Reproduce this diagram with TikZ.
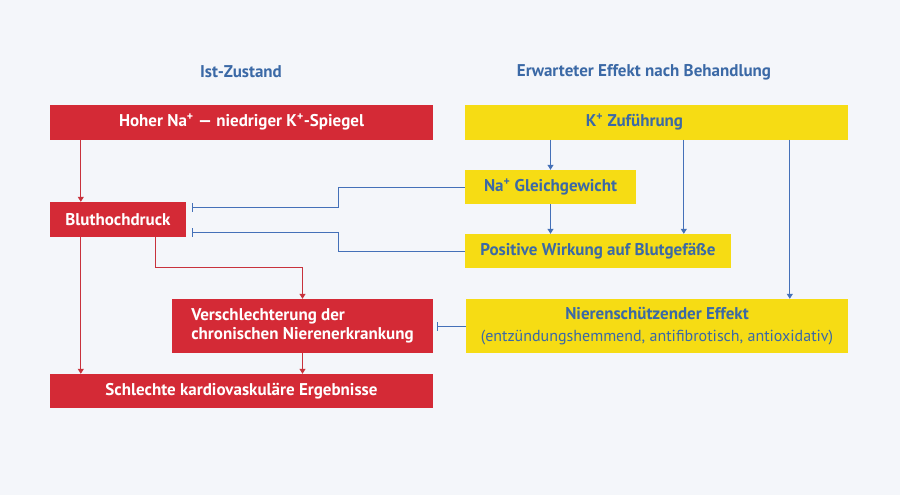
\documentclass[tikz,border=0pt]{standalone}
\usepackage{fontspec}
\setmainfont{PT Sans}
\usetikzlibrary{arrows.meta,positioning}
\definecolor{bgcol}{HTML}{F4F6FA}
\definecolor{boxred}{HTML}{D42A36}
\definecolor{linered}{HTML}{C8323C}
\definecolor{boxyellow}{HTML}{F6DC14}
\definecolor{textblue}{HTML}{3B69A6}
\definecolor{lineblue}{HTML}{4470B8}
\begin{document}
\begin{tikzpicture}[x=1pt,y=-1pt,
    redbox/.style={fill=boxred, text=white, inner sep=0pt,
      font=\bfseries\fontsize{17}{19}\selectfont},
    yellowbox/.style={fill=boxyellow, text=textblue, inner sep=0pt,
      font=\bfseries\fontsize{17}{19}\selectfont},
    heading/.style={text=textblue, font=\bfseries\fontsize{17}{19}\selectfont},
    redarrow/.style={draw=linered, line width=1pt,
      -{Triangle[width=6pt,length=5pt]}},
    bluearrow/.style={draw=lineblue, line width=1pt,
      -{Triangle[width=6pt,length=5pt]}},
    inhibit/.style={draw=lineblue, line width=1pt,
      -{Bar[width=9pt,line width=1pt]}, shorten >=6pt}]
    % Background
    \fill[bgcol] (0,0) rectangle (900,495);
    \useasboundingbox (0,0) rectangle (900,495);

    %%%%%%%%%%%%%%%%%%%%%%%%%%%%%%%%%%%%%%%%%%%%%%
    % Left: current state (red)
    %%%%%%%%%%%%%%%%%%%%%%%%%%%%%%%%%%%%%%%%%%%%%%
    \node[heading] (tIst) at (241,72) {Ist-Zustand};
    \node[redbox, minimum width=383pt, minimum height=35pt] (hoherNa) at (241.5,122)
      {Hoher Na\textsuperscript{+} — niedriger K\textsuperscript{+}-Spiegel};
    \node[redbox, minimum width=136pt, minimum height=35pt] (bluthoch) at (118,219.5)
      {Bluthochdruck};
    \node[redbox, minimum width=261pt, minimum height=54pt, align=left] (niere) at (302.5,326)
      {Verschlechterung der\\chronischen Nierenerkrankung};
    \node[redbox, minimum width=383pt, minimum height=34pt] (ergeb) at (241.5,391)
      {Schlechte kardiovaskuläre Ergebnisse};

    % Red arrows
    \draw[redarrow] ([xshift=31pt]hoherNa.south west) -- ([xshift=31pt]bluthoch.north west);
    \draw[redarrow] ([xshift=31pt]bluthoch.south west) -- ([xshift=31pt]ergeb.north west);
    \draw[redarrow] ([xshift=106pt]bluthoch.south west) -- ++(0,30) -| (niere.north);
    \draw[redarrow] (niere.south) -- (niere.south |- ergeb.north);

    %%%%%%%%%%%%%%%%%%%%%%%%%%%%%%%%%%%%%%%%%%%%%%
    % Right: expected effect (yellow)
    %%%%%%%%%%%%%%%%%%%%%%%%%%%%%%%%%%%%%%%%%%%%%%
    \node[heading] (tErw) at (644,72) {Erwarteter Effekt nach Behandlung};
    \node[yellowbox, minimum width=383pt, minimum height=35pt] (kZufuhr) at (656.5,122)
      {K\textsuperscript{+} Zuführung\kern44pt};
    \node[yellowbox, minimum width=171pt, minimum height=34pt] (naGleich) at (550.5,187)
      {Na\textsuperscript{+} Gleichgewicht};
    \node[yellowbox, minimum width=266pt, minimum height=34pt] (gefaesse) at (598,251)
      {Positive Wirkung auf Blutgefäße};
    \node[yellowbox, minimum width=382pt, minimum height=54pt, align=center] (schutz) at (657,326)
      {Nierenschützender Effekt\\[3pt]
       {\mdseries\fontsize{16}{19}\selectfont (entzündungshemmend, antifibrotisch, antioxidativ)}};

    % Blue arrows
    \draw[bluearrow] (naGleich.north |- kZufuhr.south) -- (naGleich.north);
    \draw[bluearrow] (naGleich.south) -- (naGleich.south |- gefaesse.north);
    \draw[bluearrow] ([xshift=219pt]kZufuhr.south west) -- ([xshift=219pt]kZufuhr.south west |- gefaesse.north);
    \draw[bluearrow] ([xshift=325pt]kZufuhr.south west) -- ([xshift=325pt]kZufuhr.south west |- schutz.north);

    % Inhibition
    \draw[inhibit] (naGleich.west) -- ++(-126,0) |- ([yshift=12.5pt]bluthoch.east);
    \draw[inhibit] (gefaesse.west) -- ++(-126,0) |- ([yshift=-12.5pt]bluthoch.east);
    \draw[inhibit, shorten >=4pt] (schutz.west) -- (niere.east);
\end{tikzpicture}
\end{document}
